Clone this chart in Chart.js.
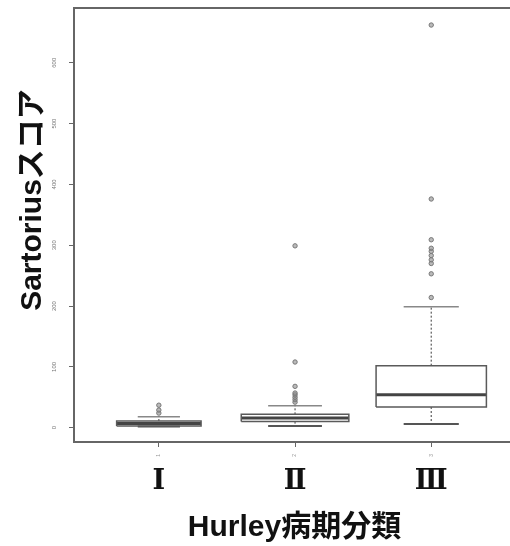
<!DOCTYPE html>
<html>
<head>
<meta charset="utf-8">
<script src="https://cdn.jsdelivr.net/npm/chart.js@4.4.0/dist/chart.umd.min.js"></script>
<style>
  html, body { margin: 0; padding: 0; background: #fff; overflow: hidden; }
  #wrap { width: 520px; height: 546px; }
</style>
</head>
<body>
<div id="wrap"><canvas id="boxChart" width="520" height="546"></canvas></div>
<script>
// Sartorius score by Hurley stage (box plot stats)
var categories = ['Ⅰ', 'Ⅱ', 'Ⅲ'];
var groupLabels = ['1', '2', '3'];
var lowerWhisker = [2, 3, 6];
var q1 = [3, 10, 34];
var medians = [7, 16, 54];
var q3 = [11, 22, 102];
var upperWhisker = [18, 36, 199];
var outliers = [
  [24, 29, 37],
  [42, 46, 50, 54, 57, 68, 108, 299],
  [214, 253, 270, 276, 283, 290, 295, 309, 376, 662]
];
var yTicks = [0, 100, 200, 300, 400, 500, 600];

// styles
var boxHalf = [0.31, 0.395, 0.405];
var lineColor = '#5a5a5a';
var xMin = 0.377, xMax = 3.615;
var titleFont = { family: "'Liberation Sans', Arial, 'Noto Sans CJK JP'", size: 30, weight: 'bold' };

function seg(points, extra) {
  var ds = {
    type: 'scatter',
    data: points,
    showLine: true,
    fill: false,
    tension: 0,
    pointRadius: 0,
    borderColor: lineColor,
    borderWidth: 1.5
  };
  for (var k in extra) ds[k] = extra[k];
  return ds;
}

var datasets = [];
categories.forEach(function (c, i) {
  var x = i + 1, hw = boxHalf[i];
  // box
  datasets.push(seg([
    { x: x - hw, y: q1[i] }, { x: x + hw, y: q1[i] },
    { x: x + hw, y: q3[i] }, { x: x - hw, y: q3[i] },
    { x: x - hw, y: q1[i] }
  ], {}));
  // median
  datasets.push(seg([{ x: x - hw, y: medians[i] }, { x: x + hw, y: medians[i] }], { borderWidth: 3, borderColor: '#444' }));
  // whiskers (dashed)
  datasets.push(seg([{ x: x, y: q3[i] }, { x: x, y: upperWhisker[i] }], { borderDash: [2, 2], borderWidth: 1.2 }));
  datasets.push(seg([{ x: x, y: q1[i] }, { x: x, y: lowerWhisker[i] }], { borderDash: [2, 2], borderWidth: 1.2 }));
  // caps
  datasets.push(seg([{ x: x - hw / 2, y: upperWhisker[i] }, { x: x + hw / 2, y: upperWhisker[i] }], { borderColor: '#888' }));
  datasets.push(seg([{ x: x - hw / 2, y: lowerWhisker[i] }, { x: x + hw / 2, y: lowerWhisker[i] }], { borderColor: '#555', borderWidth: 2 }));
  // outliers
  datasets.push({
    type: 'scatter',
    data: outliers[i].map(function (v) { return { x: x, y: v }; }),
    pointRadius: 2.2,
    borderWidth: 1,
    borderColor: '#777',
    backgroundColor: 'rgba(140,140,140,0.6)'
  });
});

function fixedTicks(values) {
  return function (scale) {
    scale.ticks = values.map(function (v) { return { value: v }; });
  };
}

var framePlugin = {
  id: 'frame',
  afterDatasetsDraw: function (chart) {
    var a = chart.chartArea, ctx = chart.ctx;
    ctx.save();
    ctx.strokeStyle = '#666';
    ctx.lineWidth = 2;
    ctx.strokeRect(a.left, a.top, a.right - a.left, a.bottom - a.top);
    ctx.restore();
  }
};

new Chart(document.getElementById('boxChart'), {
  type: 'scatter',
  data: { datasets: datasets },
  plugins: [framePlugin],
  options: {
    responsive: false,
    animation: false,
    layout: { padding: { left: 4, top: 8, right: 4, bottom: 0 } },
    plugins: { legend: { display: false }, tooltip: { enabled: false } },
    scales: {
      x: {
        type: 'linear', position: 'bottom', min: xMin, max: xMax,
        afterBuildTicks: fixedTicks([1, 2, 3]),
        afterFit: function (s) { s.height = 20; s.paddingLeft = 0; s.paddingRight = 0; },
        ticks: {
          autoSkip: false, minRotation: 90, maxRotation: 90, padding: 7,
          font: { size: 5 }, color: '#999',
          callback: function (v) { return groupLabels[v - 1]; }
        },
        grid: { drawOnChartArea: false, tickLength: 5, tickColor: '#666' },
        border: { display: false }
      },
      x2: {
        type: 'linear', position: 'bottom', weight: 1, min: xMin, max: xMax,
        afterBuildTicks: fixedTicks([1, 2, 3]),
        afterFit: function (s) { s.height = 84; s.paddingLeft = 0; s.paddingRight = 0; },
        ticks: {
          autoSkip: false, maxRotation: 0, padding: 4,
          font: { family: "'DejaVu Serif', 'Liberation Serif', serif", size: 27, weight: 'bold' }, color: '#111',
          callback: function (v) { return categories[v - 1]; }
        },
        grid: { display: false, drawTicks: false },
        border: { display: false },
        title: { display: true, text: 'Hurley病期分類', font: titleFont, color: '#111', padding: { top: 0, bottom: 0 } }
      },
      y: {
        type: 'linear', min: -23.5, max: 690,
        afterBuildTicks: fixedTicks(yTicks),
        afterFit: function (s) { s.width = 70; s.paddingTop = 0; s.paddingBottom = 0; },
        ticks: {
          autoSkip: false, minRotation: 90, maxRotation: 90, padding: 10, crossAlign: 'center',
          font: { size: 6 }, color: '#777'
        },
        grid: { drawOnChartArea: false, tickLength: 5, tickColor: '#666' },
        border: { display: false },
        title: { display: true, text: '      Sartoriusスコア', font: titleFont, color: '#111', padding: { top: 11, bottom: 0 } }
      }
    }
  }
});
</script>
</body>
</html>
